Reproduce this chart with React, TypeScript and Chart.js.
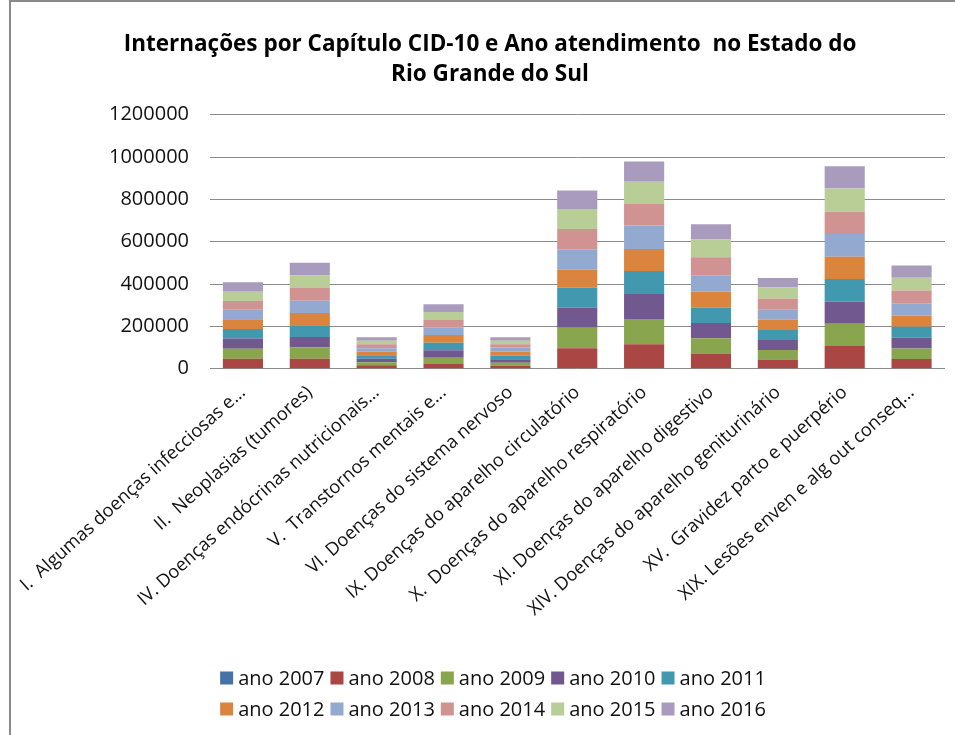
import React, { useEffect, useRef } from "react";
import { Chart, registerables } from "chart.js";

Chart.register(...registerables);

const titleLines = [
  "Internações por Capítulo CID-10 e Ano atendimento  no Estado do",
  "Rio Grande do Sul",
];

const categories = [
  "I.  Algumas doenças infecciosas e...",
  "II.  Neoplasias (tumores)",
  "IV. Doenças endócrinas nutricionais...",
  "V.  Transtornos mentais e...",
  "VI. Doenças do sistema nervoso",
  "IX. Doenças do aparelho circulatório",
  "X.  Doenças do aparelho respiratório",
  "XI. Doenças do aparelho digestivo",
  "XIV. Doenças do aparelho geniturinário",
  "XV.  Gravidez parto e puerpério",
  "XIX. Lesões enven e alg out conseq...",
];

const seriesNames = [
  "ano 2007", "ano 2008", "ano 2009", "ano 2010", "ano 2011",
  "ano 2012", "ano 2013", "ano 2014", "ano 2015", "ano 2016",
];

const ano2007 = [0, 0, 0, 0, 0, 0, 0, 0, 0, 0, 0];
const ano2008 = [47000, 47000, 16000, 22000, 14000, 97000, 116000, 72000, 44000, 107000, 46000];
const ano2009 = [47000, 53000, 15000, 30000, 14000, 96000, 119000, 72000, 44000, 105000, 50000];
const ano2010 = [49000, 50000, 16000, 35000, 17000, 96000, 118000, 72000, 48000, 105000, 50000];
const ano2011 = [44000, 55000, 17000, 36000, 17000, 93000, 108000, 72000, 47000, 107000, 52000];
const ano2012 = [47000, 58000, 16000, 36000, 19000, 86000, 105000, 77000, 48000, 105000, 53000];
const ano2013 = [44000, 58000, 17000, 35000, 19000, 96000, 110000, 77000, 47000, 107000, 58000];
const ano2014 = [42000, 63000, 18000, 36000, 16000, 96000, 102000, 85000, 52000, 105000, 60000];
const ano2015 = [44000, 58000, 17000, 38000, 16000, 94000, 105000, 83000, 55000, 110000, 61000];
const ano2016 = [44000, 58000, 16000, 36000, 16000, 88000, 96000, 72000, 44000, 106000, 58000];

const seriesValues = [ano2007, ano2008, ano2009, ano2010, ano2011, ano2012, ano2013, ano2014, ano2015, ano2016];

const seriesColors = [
  "#4572A7", "#AA4643", "#89A54E", "#71588F", "#4198AF",
  "#DB843D", "#93A9CF", "#D19392", "#B9CD96", "#A99BBD",
];

const yMin = 0;
const yMax = 1200000;
const yStep = 200000;

const FONT = "'Open Sans', 'DejaVu Sans', sans-serif";

const legendPlugin = {
  id: "excelLegend",
  afterDraw(chart: any) {
    const ctx = chart.ctx as CanvasRenderingContext2D;
    const ds = chart.data.datasets;
    const perRow = 5;
    const box = 13;
    const gap = 5;
    const itemGap = 6;
    const cx = 493;
    const y0 = chart.height - 57;
    const rowH = 31;
    ctx.save();
    ctx.font = `20px ${FONT}`;
    ctx.textBaseline = "middle";
    ctx.textAlign = "left";
    for (let r = 0; r * perRow < ds.length; r++) {
      const row = ds.slice(r * perRow, r * perRow + perRow);
      const widths = row.map((d: any) => box + gap + ctx.measureText(d.label).width);
      const total = widths.reduce((a: number, b: number) => a + b, 0) + itemGap * (row.length - 1);
      let x = cx - total / 2;
      const y = y0 + r * rowH;
      row.forEach((d: any, i: number) => {
        ctx.fillStyle = d.backgroundColor;
        ctx.fillRect(x, y - box / 2, box, box);
        ctx.fillStyle = "#111";
        ctx.fillText(d.label, x + box + gap, y + 1);
        x += widths[i] + itemGap;
      });
    }
    ctx.restore();
  },
};

export default function App() {
  const ref = useRef<HTMLCanvasElement | null>(null);

  useEffect(() => {
    if (!ref.current) return;
    const chart = new Chart(ref.current, {
      type: "bar",
      data: {
        labels: categories,
        datasets: seriesNames.map((name, i) => ({
          label: name,
          data: seriesValues[i],
          backgroundColor: seriesColors[i],
          borderWidth: 0,
          categoryPercentage: 1,
          barPercentage: 0.6,
        })),
      },
      options: {
        responsive: false,
        animation: false,
        layout: { padding: { left: 35, right: 10, top: 0, bottom: 0 } },
        plugins: {
          legend: { display: false },
          tooltip: { enabled: false },
          title: {
            display: true,
            text: titleLines,
            color: "#000",
            font: { family: FONT, size: 22.5, weight: "bold", lineHeight: 30 / 22.5 },
            padding: { top: 30, bottom: 24.7 },
          },
        },
        scales: {
          x: {
            stacked: true,
            grid: { display: false },
            border: { display: false },
            ticks: {
              autoSkip: false,
              minRotation: 42,
              maxRotation: 42,
              padding: 5,
              color: "#111",
              font: { family: FONT, size: 18.3 },
            },
            afterFit: (scale: any) => {
              scale.height = 735 - 368.7;
            },
          },
          y: {
            stacked: true,
            min: yMin,
            max: yMax,
            border: { display: false },
            grid: { color: "#8a8a8a", lineWidth: 1, drawTicks: false },
            ticks: {
              stepSize: yStep,
              padding: 20.5,
              color: "#111",
              font: { family: FONT, size: 20 },
              callback: (v: any) => String(v),
            },
            afterFit: (scale: any) => {
              scale.width = 209.5 - 35;
            },
          },
        },
      },
      plugins: [legendPlugin],
    });
    return () => chart.destroy();
  }, []);

  return (
    <div>
      <canvas
        ref={ref}
        width={955}
        height={735}
        style={{ position: "fixed", left: 0, top: 0, width: 955, height: 735, display: "block", background: "#fff" }}
      />
      <div
        style={{
          position: "fixed",
          left: 9,
          top: 0,
          width: 960,
          height: 760,
          borderLeft: "2px solid #8a8a8a",
          borderTop: "2px solid #8a8a8a",
          pointerEvents: "none",
        }}
      />
    </div>
  );
}
